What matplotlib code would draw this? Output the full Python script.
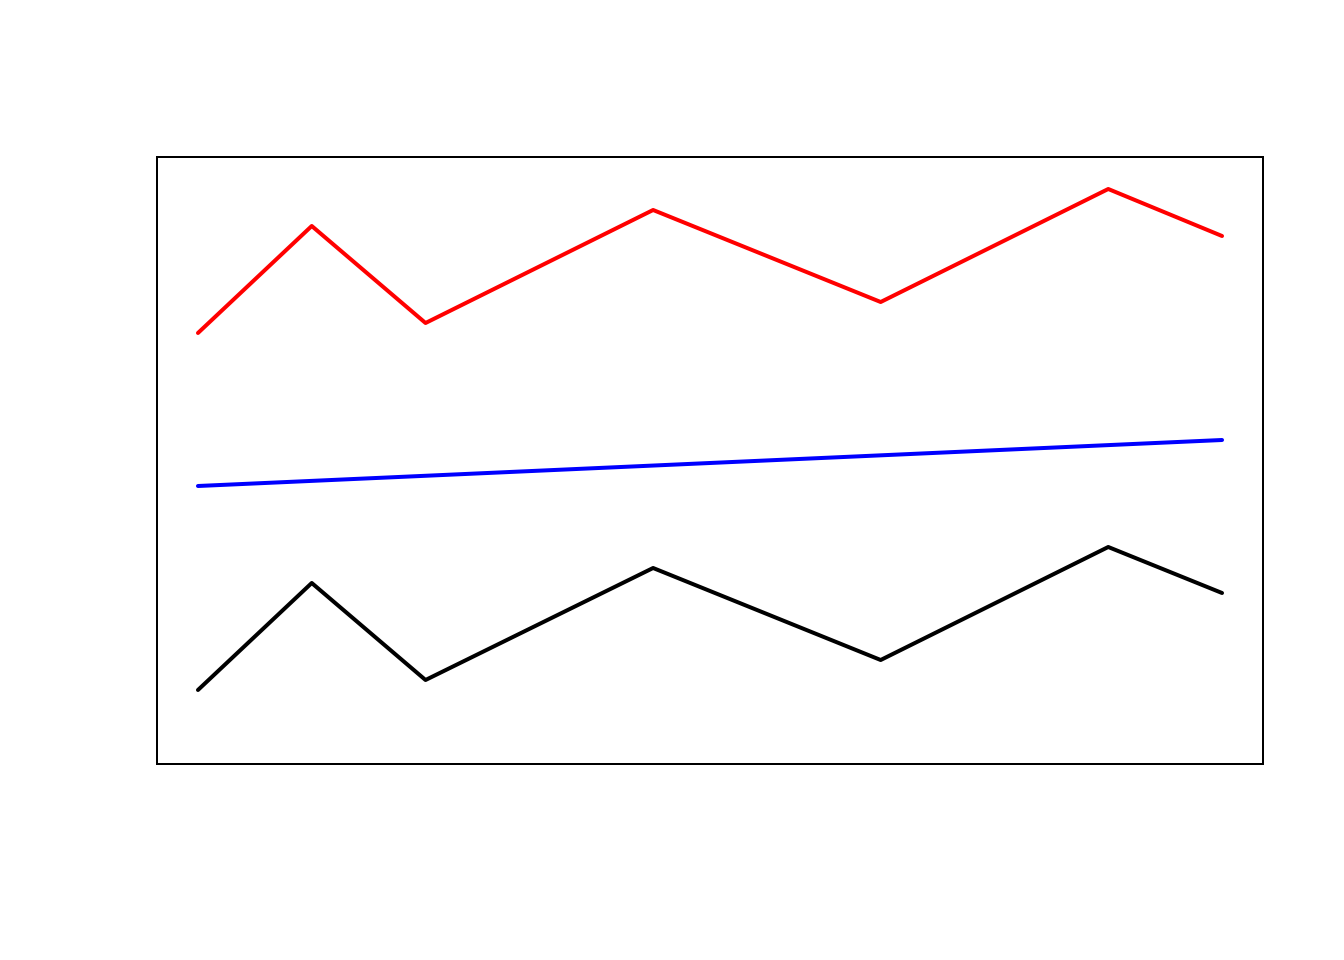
import matplotlib
matplotlib.use("Agg")
import matplotlib.pyplot as plt

# x positions of the points
x = [1, 2, 3, 5, 7, 9, 10]
# lower (black) series
y_black = [7.4, 18.1, 8.4, 19.6, 10.4, 21.7, 17.1]
# upper (red) series
y_red = [43.1, 53.8, 44.1, 55.4, 46.2, 57.5, 52.8]
# straight blue line, end points only
x_blue = [1, 10]
y_blue = [27.8, 32.4]


def main():
    fig = plt.figure(figsize=(7, 5), dpi=192)
    ax = fig.add_axes([157 / 1344, 196 / 960, 1106 / 1344, 607 / 960])

    style = dict(linewidth=1.5, solid_capstyle="round", solid_joinstyle="round")
    ax.plot(x, y_red, color="#ff0000", **style)
    ax.plot(x_blue, y_blue, color="#0000ff", **style)
    ax.plot(x, y_black, color="black", **style)

    pad = 0.04 * (max(x) - min(x))
    ax.set_xlim(min(x) - pad, max(x) + pad)
    ax.set_ylim(0, 60.7)

    ax.set_xticks([])
    ax.set_yticks([])
    for s in ax.spines.values():
        s.set_linewidth(0.75)
        s.set_color("black")

    fig.savefig("out.png", dpi=192)


if __name__ == "__main__":
    main()
